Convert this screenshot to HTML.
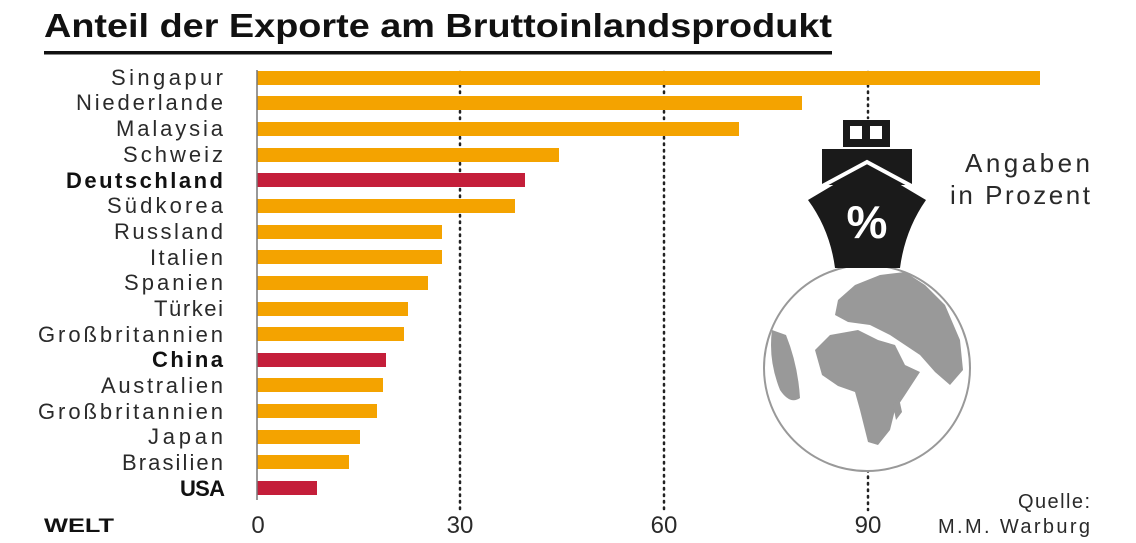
<!DOCTYPE html>
<html><head><meta charset="utf-8"><style>
html,body{margin:0;padding:0;background:#fff;width:1136px;height:543px;overflow:hidden}
svg text{font-family:"Liberation Sans",sans-serif}
</style></head><body>
<svg width="1136" height="543" viewBox="0 0 1136 543" xmlns="http://www.w3.org/2000/svg">
<text x="44" y="37" font-size="33" font-weight="bold" fill="#111" textLength="788" lengthAdjust="spacingAndGlyphs">Anteil der Exporte am Bruttoinlandsprodukt</text>
<rect x="44" y="51" width="788" height="3.5" fill="#111"/>
<g stroke="#222" stroke-width="2.5" stroke-dasharray="1.5 5" stroke-linecap="round">
<line x1="460" y1="72" x2="460" y2="510"/>
<line x1="664" y1="72" x2="664" y2="510"/>
<line x1="868" y1="72" x2="868" y2="118"/>
<line x1="868" y1="470" x2="868" y2="510"/>
</g>
<g fill="#f4a300">
<rect x="257" y="71" width="783" height="14"/>
<rect x="257" y="96" width="545" height="14"/>
<rect x="257" y="122" width="482" height="14"/>
<rect x="257" y="148" width="302" height="14"/>
<rect x="257" y="199" width="258" height="14"/>
<rect x="257" y="225" width="185" height="14"/>
<rect x="257" y="250" width="185" height="14"/>
<rect x="257" y="276" width="171" height="14"/>
<rect x="257" y="302" width="151" height="14"/>
<rect x="257" y="327" width="147" height="14"/>
<rect x="257" y="378" width="126" height="14"/>
<rect x="257" y="404" width="120" height="14"/>
<rect x="257" y="430" width="103" height="14"/>
<rect x="257" y="455" width="92" height="14"/>
</g>
<g fill="#c41e3a">
<rect x="257" y="173" width="268" height="14"/>
<rect x="257" y="353" width="129" height="14"/>
<rect x="257" y="481" width="60" height="14"/>
</g>
<line x1="257" y1="70" x2="257" y2="500" stroke="#777" stroke-width="1.5"/>
<g font-size="22" fill="#2a2a2a" text-anchor="end" lengthAdjust="spacingAndGlyphs">
<text x="223" y="85" textLength="112">Singapur</text>
<text x="223" y="110" textLength="147">Niederlande</text>
<text x="223" y="136" textLength="107">Malaysia</text>
<text x="223" y="162" textLength="100">Schweiz</text>
<text x="223" y="188" font-weight="bold" fill="#111" textLength="157">Deutschland</text>
<text x="223" y="213" textLength="116">Südkorea</text>
<text x="223" y="239" textLength="109">Russland</text>
<text x="223" y="265" textLength="73">Italien</text>
<text x="223" y="290" textLength="99">Spanien</text>
<text x="223" y="316" textLength="69">Türkei</text>
<text x="223" y="342" textLength="185">Großbritannien</text>
<text x="223" y="367" font-weight="bold" fill="#111" textLength="71">China</text>
<text x="223" y="393" textLength="122">Australien</text>
<text x="223" y="419" textLength="185">Großbritannien</text>
<text x="223" y="444" textLength="75">Japan</text>
<text x="223" y="470" textLength="101">Brasilien</text>
<text x="225" y="496" font-weight="bold" fill="#111" textLength="45">USA</text>
</g>
<g font-size="24" fill="#2a2a2a" text-anchor="middle">
<text x="258" y="533">0</text>
<text x="460" y="533">30</text>
<text x="664" y="533">60</text>
<text x="868" y="533">90</text>
</g>
<text x="44" y="532" font-size="19" font-weight="bold" fill="#111" textLength="70" lengthAdjust="spacingAndGlyphs">WELT</text>
<g font-size="26" fill="#2a2a2a" text-anchor="end" lengthAdjust="spacingAndGlyphs">
<text x="1090" y="172" textLength="125">Angaben</text>
<text x="1090" y="204" textLength="140">in Prozent</text>
</g>
<g font-size="20" fill="#2a2a2a" text-anchor="end" lengthAdjust="spacingAndGlyphs">
<text x="1090" y="508" textLength="72">Quelle:</text>
<text x="1090" y="533" textLength="152">M.M. Warburg</text>
</g>
<circle cx="867" cy="368" r="103" fill="#fff" stroke="#999" stroke-width="2"/>
<g fill="#999">
<path d="M815 350 L830 335 L858 330 L878 340 L895 345 L905 365 L920 372 L905 395 L895 410 L890 430 L878 445 L868 442 L860 410 L855 392 L838 386 L822 375 Z"/>
<path d="M838 300 L855 285 L880 275 L905 272 L925 285 L945 305 L960 340 L963 370 L950 385 L935 372 L920 355 L905 345 L890 335 L870 325 L848 322 L835 315 Z"/>
<path d="M772 330 Q768 360 780 390 Q790 405 800 398 Q798 365 786 335 Z"/>
<path d="M893 405 L899 398 L902 412 L896 420 Z"/>
</g>
<rect x="843" y="120" width="47" height="27" fill="#1a1a1a"/>
<rect x="850" y="126" width="12" height="13" fill="#fff"/>
<rect x="870" y="126" width="12" height="13" fill="#fff"/>
<rect x="822" y="149" width="90" height="36" fill="#1a1a1a"/>
<path d="M808 200 L867 165 L926 200 Q905 230 900 268 L835 268 Q830 230 808 200 Z" fill="#1a1a1a"/>
<path d="M815 190 L867 162 L919 190" stroke="#fff" stroke-width="4" fill="none"/>
<text x="867" y="238" font-size="46" font-weight="bold" fill="#fff" text-anchor="middle">%</text>
</svg>
</body></html>
